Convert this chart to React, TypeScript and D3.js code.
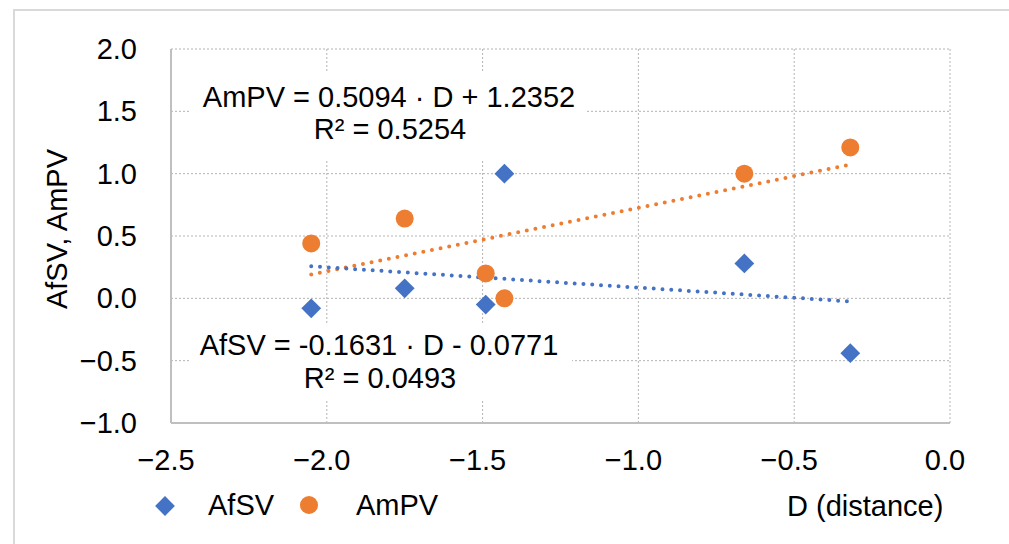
import React from "react";
import * as d3 from "d3";

// data
const distance = [-2.05, -1.75, -1.49, -1.43, -0.66, -0.32];
const afsv = [-0.08, 0.08, -0.05, 1.0, 0.28, -0.44];
const ampv = [0.44, 0.64, 0.2, 0.0, 1.0, 1.21];

// trendline coefficients as printed on the chart
const ampvFit = { slope: 0.5094, intercept: 1.2352, r2: "0.5254" };
const afsvFit = { slope: -0.1631, intercept: -0.0771, r2: "0.0493" };

const xTicks = [-2.5, -2.0, -1.5, -1.0, -0.5, 0.0];
const yTicks = [-1.0, -0.5, 0.0, 0.5, 1.0, 1.5, 2.0];

const BLUE = "#4472C4";
const ORANGE = "#ED7D31";
const FONT = "'Liberation Sans', Arial, sans-serif";

export default function App() {
  const width = 1009;
  const height = 544;
  const plot = { left: 171, right: 950, top: 49, bottom: 423 };

  const xScale = d3.scaleLinear().domain([-2.5, 0]).range([plot.left, plot.right]);
  const yScale = d3.scaleLinear().domain([-1, 2]).range([plot.bottom, plot.top]);
  const fmt = d3.format(".1f");

  const xMin = d3.min(distance) as number;
  const xMax = d3.max(distance) as number;
  const line = d3.line<[number, number]>().x(d => xScale(d[0])).y(d => yScale(d[1]));
  const fitPath = (f: { slope: number; intercept: number }) =>
    line([
      [xMin, f.slope * xMin + f.intercept],
      [xMax, f.slope * xMax + f.intercept],
    ]) || "";

  const fontSize = 29;

  return (
    <svg
      width={width}
      height={height}
      style={{ position: "absolute", left: 0, top: 0, background: "#fff" }}
      fontFamily={FONT}
    >
      {/* chart border */}
      <rect x={14} y={10} width={1020} height={560} fill="#fff" stroke="#d9d9d9" strokeWidth={2} />

      {/* gridlines */}
      {xTicks.slice(1).map(t => (
        <line key={"gx" + t} x1={xScale(t)} x2={xScale(t)} y1={plot.top} y2={plot.bottom}
          stroke="#b4b4b4" strokeWidth={1} strokeDasharray="2 2" />
      ))}
      {yTicks.slice(1).map(t => (
        <line key={"gy" + t} x1={plot.left} x2={plot.right} y1={yScale(t)} y2={yScale(t)}
          stroke="#b4b4b4" strokeWidth={1} strokeDasharray="2 2" />
      ))}

      {/* axis lines */}
      <line x1={plot.left} x2={plot.left} y1={plot.top} y2={plot.bottom} stroke="#bfbfbf" strokeWidth={2} />
      <line x1={plot.left} x2={plot.right} y1={plot.bottom} y2={plot.bottom} stroke="#bfbfbf" strokeWidth={2} />

      {/* tick labels */}
      {yTicks.map(t => (
        <text key={"ty" + t} x={137} y={yScale(t)} dy="0.35em" textAnchor="end" fontSize={fontSize} fill="#000">
          {fmt(t)}
        </text>
      ))}
      {xTicks.map(t => (
        <text key={"tx" + t} x={xScale(t) - 5} y={470} textAnchor="middle" fontSize={fontSize} fill="#000">
          {fmt(t)}
        </text>
      ))}

      {/* axis titles */}
      <text transform="translate(67,229) rotate(-90)" textAnchor="middle" fontSize={fontSize} fill="#000">
        AfSV, AmPV
      </text>
      <text x={787} y={516} fontSize={fontSize} fill="#000">D (distance)</text>

      {/* trendlines */}
      <path d={fitPath(ampvFit)} stroke={ORANGE} strokeWidth={4} strokeLinecap="round" strokeDasharray="0 8.8" fill="none" />
      <path d={fitPath(afsvFit)} stroke={BLUE} strokeWidth={4} strokeLinecap="round" strokeDasharray="0 8.8" fill="none" />

      {/* AfSV markers */}
      {distance.map((d, i) => (
        <rect key={"a" + i} x={-7} y={-7} width={14} height={14} fill={BLUE}
          transform={`translate(${xScale(d)},${yScale(afsv[i])}) rotate(45)`} />
      ))}
      {/* AmPV markers */}
      {distance.map((d, i) => (
        <circle key={"b" + i} cx={xScale(d)} cy={yScale(ampv[i])} r={9} fill={ORANGE} />
      ))}

      {/* trendline labels */}
      <rect x={191} y={73} width={395} height={87} fill="#fff" />
      <text x={389} y={107} textAnchor="middle" fontSize={fontSize} fill="#000">
        {`AmPV = ${ampvFit.slope.toFixed(4)} · D + ${ampvFit.intercept.toFixed(4)}`}
      </text>
      <text x={390} y={139} textAnchor="middle" fontSize={fontSize} fill="#000">
        {`R² = ${ampvFit.r2}`}
      </text>

      <rect x={191} y={323} width={381} height={77} fill="#fff" />
      <text x={379} y={355} textAnchor="middle" fontSize={fontSize} fill="#000">
        {`AfSV = ${afsvFit.slope.toFixed(4)} · D - ${Math.abs(afsvFit.intercept).toFixed(4)}`}
      </text>
      <text x={380} y={388} textAnchor="middle" fontSize={fontSize} fill="#000">
        {`R² = ${afsvFit.r2}`}
      </text>

      {/* legend */}
      <rect x={-7} y={-7} width={14} height={14} fill={BLUE} transform="translate(165,506) rotate(45)" />
      <text x={208} y={515} fontSize={fontSize} fill="#000">AfSV</text>
      <circle cx={309} cy={505} r={9} fill={ORANGE} />
      <text x={356} y={515} fontSize={fontSize} fill="#000">AmPV</text>
    </svg>
  );
}
